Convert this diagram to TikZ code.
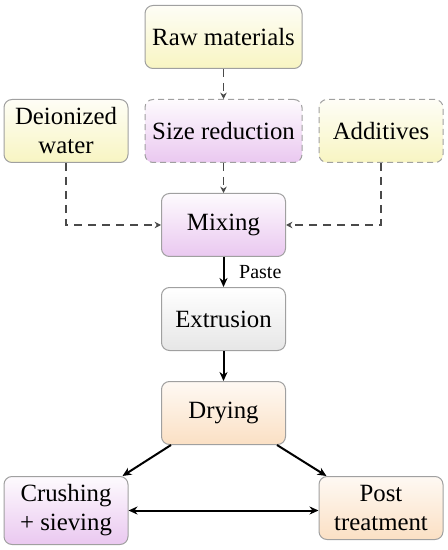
\documentclass[tikz,border=0pt]{standalone}
\usepackage{fontspec}
\setmainfont{Liberation Serif}
\usetikzlibrary{arrows.meta, positioning, calc}
\definecolor{lemon}{HTML}{F8F5C2}
\definecolor{lilac}{HTML}{EAC8F0}
\definecolor{peach}{HTML}{FBE0C4}
\definecolor{ash}{HTML}{E6E6E6}
\definecolor{rim}{HTML}{A0A0A0}
\definecolor{ink}{HTML}{4A4A4A}

\begin{document}
\begin{tikzpicture}[
  font=\fontsize{12.4}{14.5}\selectfont,
  box/.style={draw=rim, rounded corners=4pt, align=center, inner sep=2pt,
              minimum width=62pt, minimum height=31.5pt, line width=0.5pt},
  wide/.style={box, minimum width=78.5pt},
  yel/.style={top color=lemon!15, bottom color=lemon},
  pur/.style={top color=lilac!8, bottom color=lilac},
  gry/.style={top color=white, bottom color=ash},
  org/.style={top color=peach!20, bottom color=peach},
  opt/.style={dash pattern=on 3pt off 2pt},
  dar/.style={-{Stealth[length=3.2pt, width=3.2pt]}, draw=ink,
              dash pattern=on 4pt off 3pt, line width=0.6pt},
  ar/.style={-{Stealth[length=4.5pt, width=4pt]}, line width=1pt},
  node distance=15pt and 8pt]

\useasboundingbox (0,0) rectangle (223.5pt,-275pt);

\node[wide, yel, anchor=north] (raw) at (111.75pt,-2.5pt) {Raw materials};
\node[wide, pur, opt, below=of raw] (size) {Size reduction};
\node[box, yel, left=of size] (water) {Deionized\\water};
\node[box, yel, opt, right=of size] (add) {Additives};

\node[box, pur, below=of size] (mix) {Mixing};
\node[box, gry, below=of mix] (ext) {Extrusion};
\node[box, org, below=of ext] (dry) {Drying};

\node[box, pur, minimum height=34pt, anchor=north] (crush)
  at ([yshift=-15.5pt]dry.south -| water) {Crushing\\+ sieving};
\node[box, org, anchor=north] (post)
  at ([yshift=-15.5pt]dry.south -| add) {Post\\treatment};

% feed lines
\draw[dar] (raw) -- (size);
\draw[dar] (size) -- (mix);
\draw[dar] (water.south) |- (mix.west);
\draw[dar] (add.south) |- (mix.east);

% main line
\draw[ar] (mix) -- node[right=4pt, font=\fontsize{10}{11}\selectfont]{Paste} (ext);
\draw[ar] (ext) -- (dry);
\draw[ar] ([xshift=5pt]dry.south west) -- ([xshift=-3pt]crush.north east);
\draw[ar] ([xshift=-4.5pt]dry.south east) -- ([xshift=4pt]post.north west);
\draw[ar, {Stealth[length=4.5pt, width=4pt]}-{Stealth[length=4.5pt, width=4pt]}]
  (crush.east) -- (crush.east -| post.west);
\end{tikzpicture}
\end{document}
